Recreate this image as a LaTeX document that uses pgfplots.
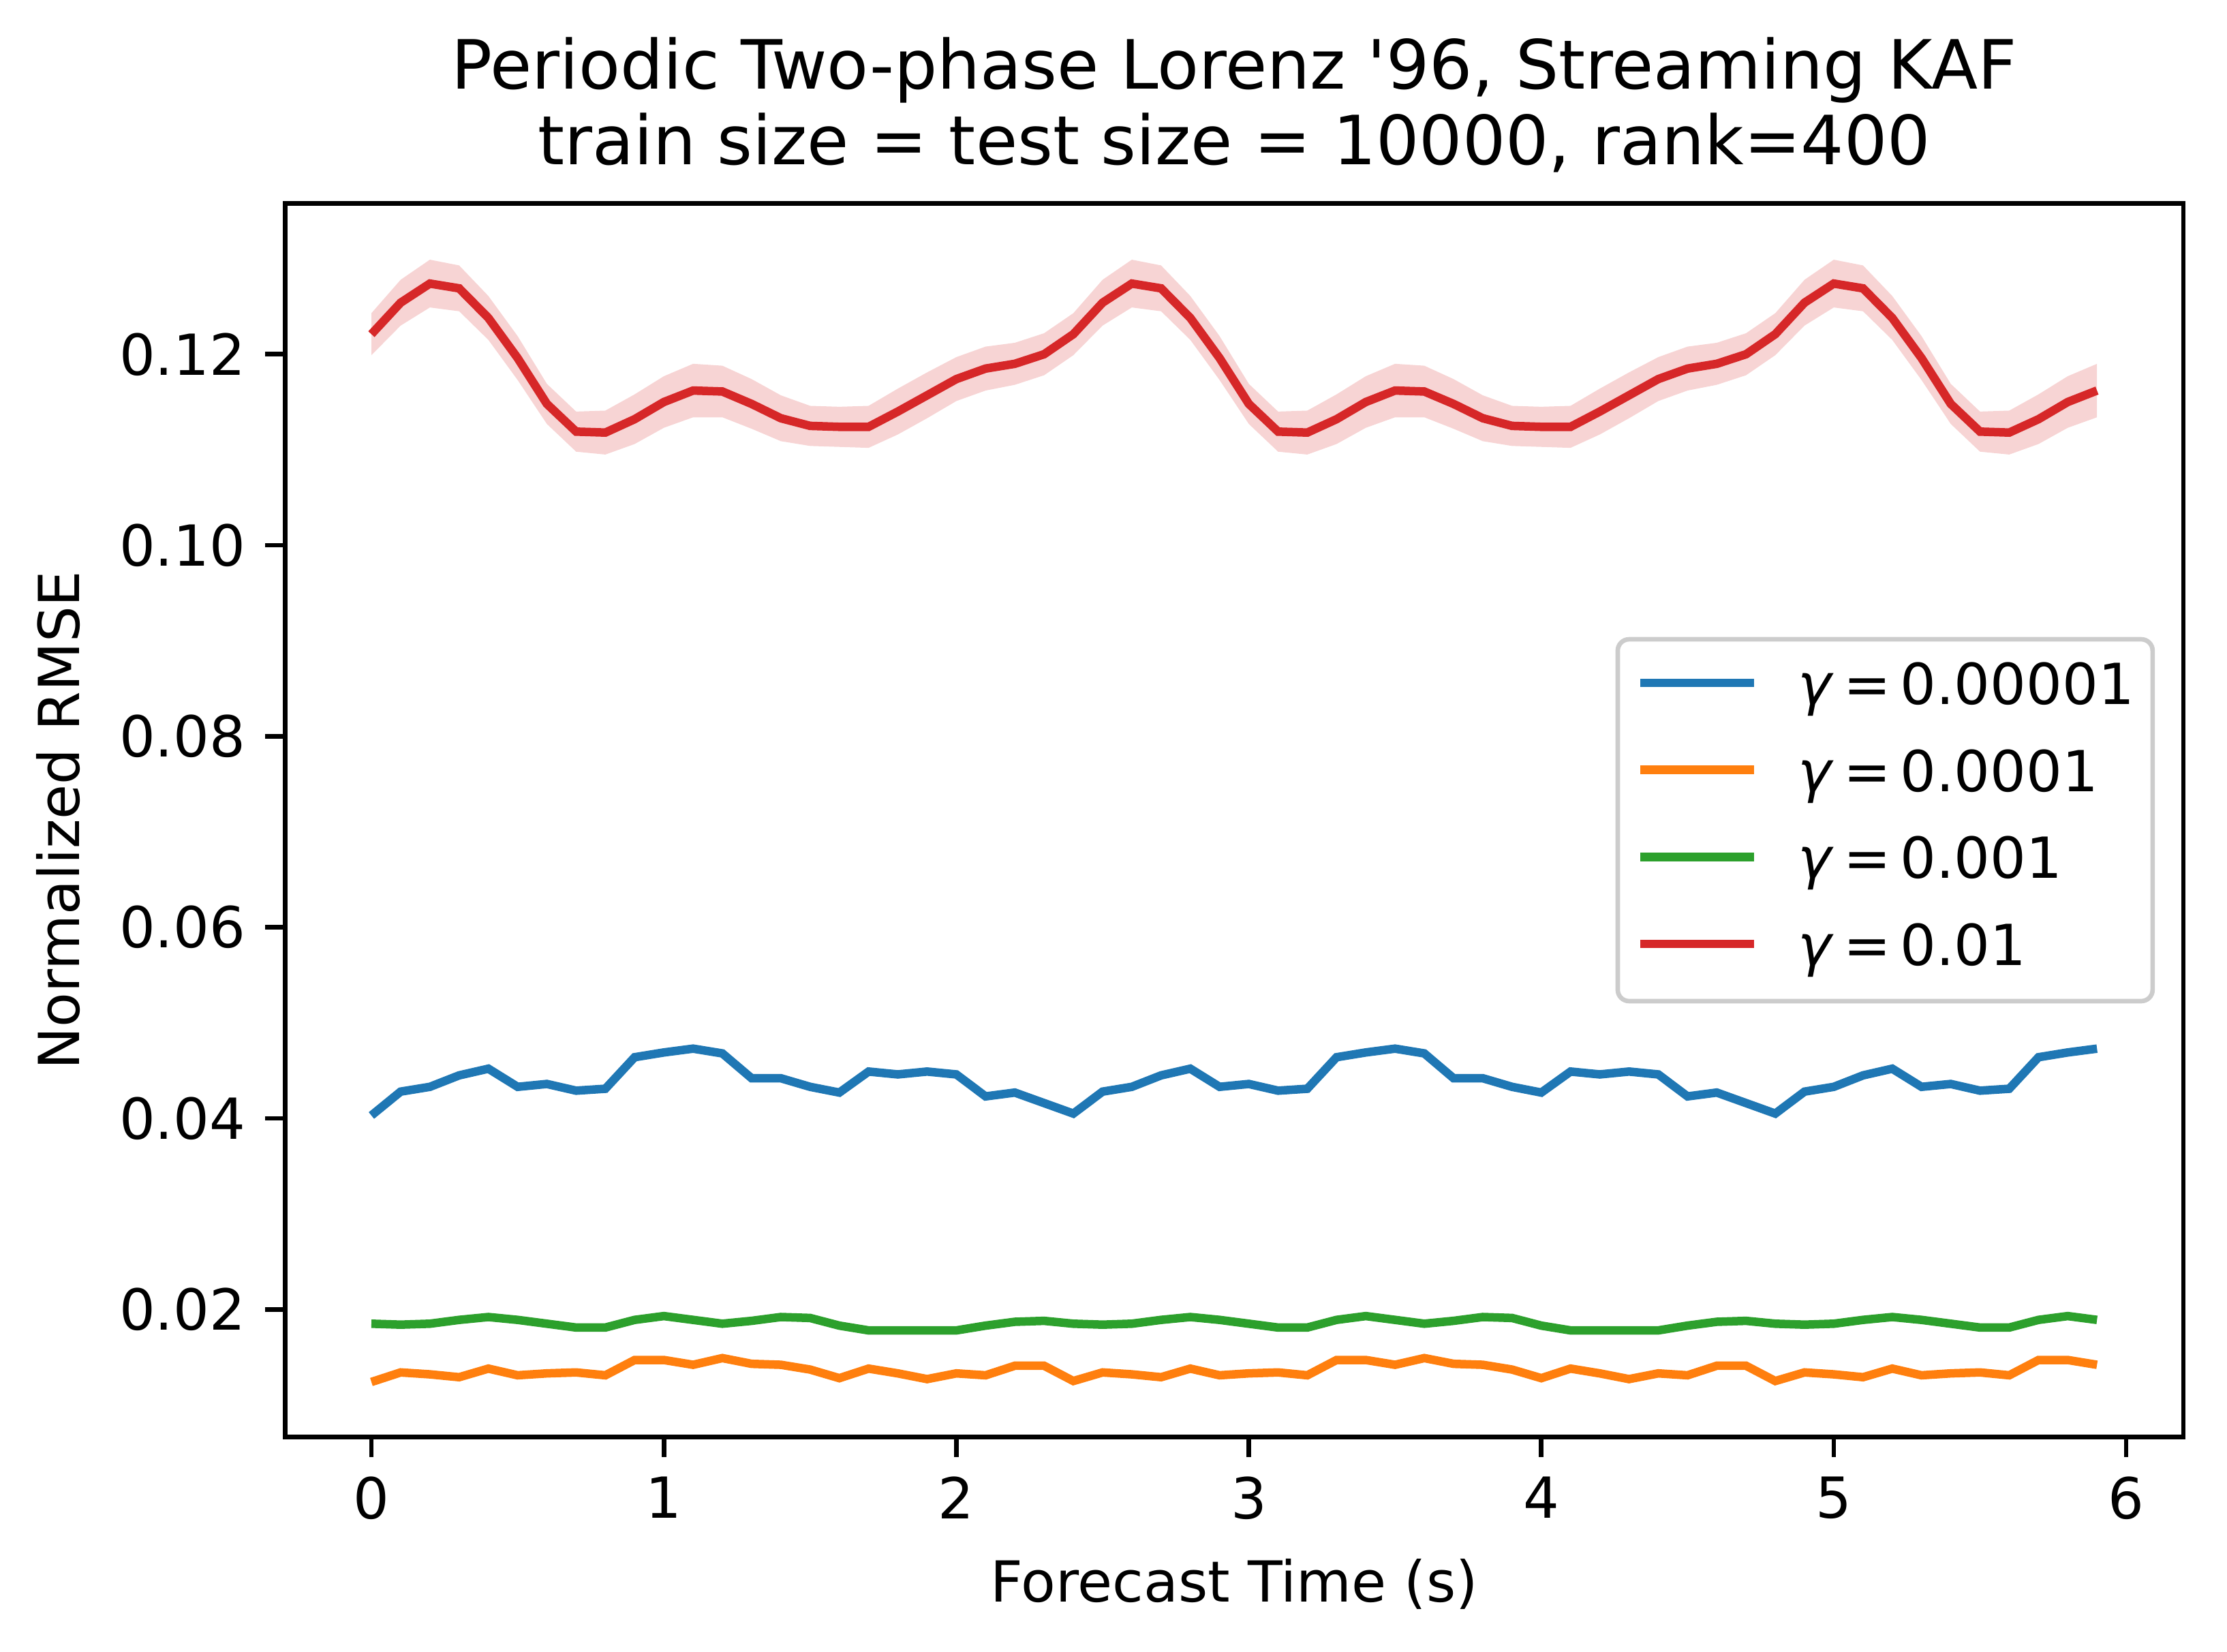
\documentclass[border=0pt]{standalone}
\usepackage{fontspec}
\setmainfont{DejaVu Sans}[Ligatures=TeXOff]
\usepackage{pgfplots}
\usepackage{pgfplotstable}
\pgfplotsset{compat=1.18}
\usepgfplotslibrary{fillbetween}
\definecolor{tabblue}{HTML}{1F77B4}
\definecolor{taborange}{HTML}{FF7F0E}
\definecolor{tabgreen}{HTML}{2CA02C}
\definecolor{tabred}{HTML}{D62728}

\pgfplotstableread{
t   b      o      g      r      lo     hi
0.0 0.0403 0.0124 0.0185 0.1221 0.1199 0.1243
0.1 0.0428 0.0134 0.0184 0.1254 0.1230 0.1278
0.2 0.0433 0.0132 0.0185 0.1274 0.1249 0.1299
0.3 0.0445 0.0129 0.0189 0.1269 0.1245 0.1293
0.4 0.0452 0.0138 0.0192 0.1238 0.1215 0.1261
0.5 0.0433 0.0131 0.0189 0.1196 0.1173 0.1219
0.6 0.0436 0.0133 0.0185 0.1148 0.1127 0.1169
0.7 0.0429 0.0134 0.0181 0.1119 0.1098 0.1140
0.8 0.0431 0.0131 0.0181 0.1118 0.1095 0.1141
0.9 0.0464 0.0147 0.0189 0.1132 0.1106 0.1158
1.0 0.0469 0.0147 0.0193 0.1150 0.1123 0.1177
1.1 0.0473 0.0142 0.0189 0.1162 0.1134 0.1190
1.2 0.0468 0.0149 0.0185 0.1161 0.1134 0.1188
1.3 0.0442 0.0143 0.0188 0.1148 0.1122 0.1174
1.4 0.0442 0.0142 0.0192 0.1133 0.1109 0.1157
1.5 0.0433 0.0137 0.0191 0.1125 0.1104 0.1146
1.6 0.0427 0.0128 0.0183 0.1124 0.1103 0.1145
1.7 0.0449 0.0138 0.0178 0.1124 0.1102 0.1146
1.8 0.0446 0.0133 0.0178 0.1140 0.1116 0.1164
1.9 0.0449 0.0127 0.0178 0.1157 0.1133 0.1181
2.0 0.0446 0.0133 0.0178 0.1174 0.1151 0.1197
2.1 0.0423 0.0131 0.0183 0.1185 0.1162 0.1208
2.2 0.0427 0.0141 0.0187 0.1190 0.1168 0.1212
2.3 0.0416 0.0141 0.0188 0.1200 0.1178 0.1222
2.4 0.0405 0.0125 0.0185 0.1221 0.1199 0.1243
2.5 0.0428 0.0134 0.0184 0.1254 0.1230 0.1278
2.6 0.0433 0.0132 0.0185 0.1274 0.1249 0.1299
2.7 0.0445 0.0129 0.0189 0.1269 0.1245 0.1293
2.8 0.0452 0.0138 0.0192 0.1238 0.1215 0.1261
2.9 0.0433 0.0131 0.0189 0.1196 0.1173 0.1219
3.0 0.0436 0.0133 0.0185 0.1148 0.1127 0.1169
3.1 0.0429 0.0134 0.0181 0.1119 0.1098 0.1140
3.2 0.0431 0.0131 0.0181 0.1118 0.1095 0.1141
3.3 0.0464 0.0147 0.0189 0.1132 0.1106 0.1158
3.4 0.0469 0.0147 0.0193 0.1150 0.1123 0.1177
3.5 0.0473 0.0142 0.0189 0.1162 0.1134 0.1190
3.6 0.0468 0.0149 0.0185 0.1161 0.1134 0.1188
3.7 0.0442 0.0143 0.0188 0.1148 0.1122 0.1174
3.8 0.0442 0.0142 0.0192 0.1133 0.1109 0.1157
3.9 0.0433 0.0137 0.0191 0.1125 0.1104 0.1146
4.0 0.0427 0.0128 0.0183 0.1124 0.1103 0.1145
4.1 0.0449 0.0138 0.0178 0.1124 0.1102 0.1146
4.2 0.0446 0.0133 0.0178 0.1140 0.1116 0.1164
4.3 0.0449 0.0127 0.0178 0.1157 0.1133 0.1181
4.4 0.0446 0.0133 0.0178 0.1174 0.1151 0.1197
4.5 0.0423 0.0131 0.0183 0.1185 0.1162 0.1208
4.6 0.0427 0.0141 0.0187 0.1190 0.1168 0.1212
4.7 0.0416 0.0141 0.0188 0.1200 0.1178 0.1222
4.8 0.0405 0.0125 0.0185 0.1221 0.1199 0.1243
4.9 0.0428 0.0134 0.0184 0.1254 0.1230 0.1278
5.0 0.0433 0.0132 0.0185 0.1274 0.1249 0.1299
5.1 0.0445 0.0129 0.0189 0.1269 0.1245 0.1293
5.2 0.0452 0.0138 0.0192 0.1238 0.1215 0.1261
5.3 0.0433 0.0131 0.0189 0.1196 0.1173 0.1219
5.4 0.0436 0.0133 0.0185 0.1148 0.1127 0.1169
5.5 0.0429 0.0134 0.0181 0.1119 0.1098 0.1140
5.6 0.0431 0.0131 0.0181 0.1118 0.1095 0.1141
5.7 0.0464 0.0147 0.0189 0.1132 0.1106 0.1158
5.8 0.0469 0.0147 0.0193 0.1150 0.1123 0.1177
5.9 0.0473 0.0142 0.0189 0.1162 0.1134 0.1190
}\data

\newcommand{\gammaeq}[1]{\textit{γ}\hspace{1.7bp}=\hspace{1.7bp}#1}

\begin{document}
\begin{tikzpicture}
\begin{axis}[
  name=ax,
  scale only axis,
  width=334.2bp, height=217.2bp,
  xmin=-0.295, xmax=6.195,
  ymin=0.00663, ymax=0.1358,
  xtick={0,1,2,3,4,5,6},
  ytick={0.02,0.04,0.06,0.08,0.10,0.12},
  scaled y ticks=false,
  yticklabel style={/pgf/number format/.cd, fixed, fixed zerofill, precision=2},
  /pgf/number format/assume math mode=true,
  tick align=outside,
  tick pos=left,
  major tick length=3.5bp,
  tick style={black, line width=0.8bp},
  axis line style={line width=0.8bp},
  ticklabel style={font=\fontsize{10}{12}\selectfont},
  label style={font=\fontsize{10}{12}\selectfont},
  xlabel={Forecast Time (s)},
  ylabel={Normalized RMSE},
  legend cell align=left,
  legend image code/.code={\draw[#1, line width=1.5bp] (0bp,1.2bp) -- (20bp,1.2bp);},
  legend style={at={(rel axis cs:1,0.5)}, anchor=east, xshift=-5bp,
    draw=black!20, line width=0.8bp, rounded corners=2bp,
    fill=white, fill opacity=0.8, text opacity=1,
    inner xsep=3.2bp, inner ysep=4bp,
    font=\fontsize{10}{12}\selectfont,
    row sep=5.5bp, column sep=7bp,
    nodes={inner sep=0pt, text height=7.5bp, text depth=2.3bp}},
]
\addplot[draw=none, name path=up, forget plot] table[x=t, y=hi]{\data};
\addplot[draw=none, name path=dn, forget plot] table[x=t, y=lo]{\data};
\addplot[fill=tabred, fill opacity=0.2, draw=none, forget plot] fill between[of=up and dn];
\addplot[tabblue, line width=1.5bp] table[x=t, y=b]{\data};
\addlegendentry{\gammaeq{0.00001}}
\addplot[taborange, line width=1.5bp] table[x=t, y=o]{\data};
\addlegendentry{\gammaeq{0.0001}}
\addplot[tabgreen, line width=1.5bp] table[x=t, y=g]{\data};
\addlegendentry{\gammaeq{0.001}}
\addplot[tabred, line width=1.5bp] table[x=t, y=r]{\data};
\addlegendentry{\gammaeq{0.01}}
\end{axis}
\node[anchor=south, align=center, inner sep=0pt, font=\fontsize{12}{13.4}\selectfont]
  at ([yshift=5.2bp]ax.north) {Periodic Two-phase Lorenz '96, Streaming KAF\\train size = test size = 10000, rank=400};
\pgfresetboundingbox
\path[use as bounding box] ([xshift=-50.2bp, yshift=-37.8bp]ax.south west) rectangle ([xshift=7.7bp, yshift=35.8bp]ax.north east);
\end{tikzpicture}
\end{document}
